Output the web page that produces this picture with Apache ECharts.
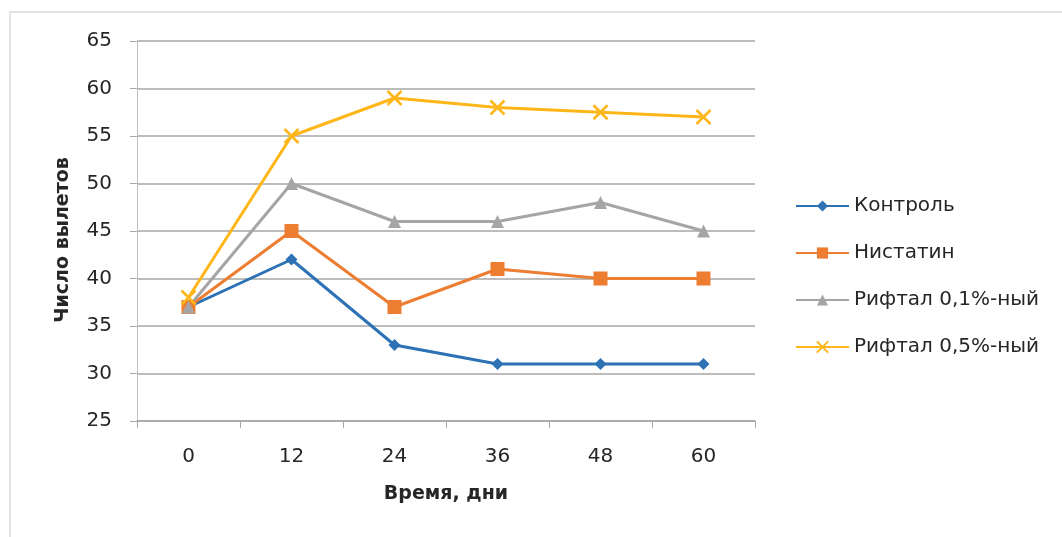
<!DOCTYPE html>
<html><head><meta charset="utf-8">
<script src="https://cdn.jsdelivr.net/npm/echarts@6/dist/echarts.min.js"></script>
<style>html,body{margin:0;padding:0;background:#fff}#c{width:1062px;height:537px}</style>
</head><body><div id="c"></div>
<script>
const categories = ['0','12','24','36','48','60'];
const control = [37, 42, 33, 31, 31, 31];
const nystatin = [37, 45, 37, 41, 40, 40];
const riftal01 = [37, 50, 46, 46, 48, 45];
const riftal05 = [38, 55, 59, 58, 57.5, 57];
const seriesNames = ['Контроль','Нистатин','Рифтал 0,1%-ный','Рифтал 0,5%-ный'];
const colors = ['#2C72B5','#ED7D31','#A5A5A5','#FFB619'];
const font = 'DejaVu Sans, sans-serif';
const xPath = 'path://M0,0L10,10M10,0L0,10';

const chart = echarts.init(document.getElementById('c'));
chart.setOption({
  animation:false,
  textStyle:{fontFamily:font},
  graphic:[{type:'rect',shape:{x:10,y:12,width:1060,height:540},style:{fill:'none',stroke:'#d9d9d9',lineWidth:1.5}}],
  grid:{left:137,right:307,top:41,bottom:116},
  legend:{
    orient:'vertical',left:795,top:194,itemGap:23,itemWidth:53,itemHeight:14,padding:0,
    textStyle:{fontSize:20,color:'#262626',fontFamily:font,lineHeight:24},
    data:seriesNames
  },
  xAxis:{
    type:'category',data:categories,boundaryGap:true,
    name:'Время, дни',nameLocation:'middle',nameGap:64,
    nameTextStyle:{fontSize:19,fontWeight:'bold',color:'#262626'},
    axisLine:{lineStyle:{color:'#a6a6a6',width:1.5}},
    axisTick:{show:true,length:7,lineStyle:{color:'#a6a6a6'}},
    axisLabel:{fontSize:20,color:'#262626',margin:26}
  },
  yAxis:{
    type:'value',min:25,max:65,interval:5,
    name:'Число вылетов',nameLocation:'middle',nameGap:64,nameRotate:90,
    nameTextStyle:{fontSize:19,fontWeight:'bold',color:'#262626',padding:[0,18,0,0]},
    axisLine:{show:true,lineStyle:{color:'#bfbfbf',width:1}},
    axisTick:{show:true,inside:false,length:7,lineStyle:{color:'#a6a6a6'}},
    axisLabel:{fontSize:20,color:'#262626',margin:25},
    splitLine:{lineStyle:{color:'#a6a6a6',width:1.5}}
  },
  series:[
    {name:seriesNames[0],type:'line',data:control,color:colors[0],symbol:'diamond',symbolSize:12,lineStyle:{width:3},itemStyle:{color:colors[0]}},
    {name:seriesNames[1],type:'line',data:nystatin,color:colors[1],symbol:'rect',symbolSize:14,lineStyle:{width:3},itemStyle:{color:colors[1]}},
    {name:seriesNames[2],type:'line',data:riftal01,color:colors[2],symbol:'triangle',symbolSize:13,lineStyle:{width:3},itemStyle:{color:colors[2]}},
    {name:seriesNames[3],type:'line',data:riftal05,color:colors[3],symbol:xPath,symbolSize:14,lineStyle:{width:3},itemStyle:{color:colors[3],borderColor:colors[3],borderWidth:2.5}}
  ]
});
</script></body></html>
